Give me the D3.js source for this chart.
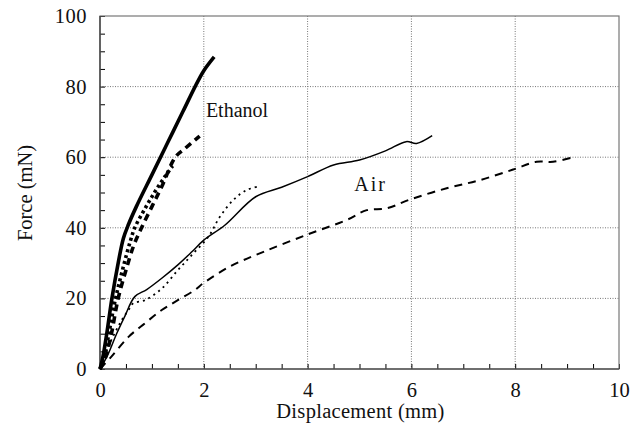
<!DOCTYPE html>
<html>
<head>
<meta charset="utf-8">
<script src="https://cdn.jsdelivr.net/npm/d3@7"></script>
<style>
  body { margin: 0; background: #fff; }
  svg text { font-family: "Liberation Serif", "DejaVu Serif", serif; fill: #111; }
  .grid line { stroke: #777; stroke-dasharray: 1,1.5; stroke-width: 1; }
</style>
</head>
<body>
<div id="graph"></div>
<script>
// displacement (mm) / force (mN)
var ethSolidX = [0, 0.05, 0.13, 0.23, 0.35, 0.45, 0.55, 0.7, 1.0, 1.3, 1.6, 1.85, 2.0, 2.2];
var ethSolidY = [0, 3, 10, 20, 30, 37, 41, 46, 55, 64, 73, 80.5, 84.5, 88.4];
var ethDotX = [0, 0.08, 0.17, 0.3, 0.45, 0.58, 0.67, 0.85, 1.05, 1.25, 1.4];
var ethDotY = [0, 3, 10, 20, 29, 36, 40, 45, 50, 54.5, 57.5];
var ethDashX = [0, 0.1, 0.22, 0.35, 0.5, 0.65, 0.8, 1.0, 1.2, 1.45, 1.64, 1.92];
var ethDashY = [0, 3, 10, 20, 28, 35, 40, 46, 52, 60, 62.5, 66];

var airSolidX = [0, 0.15, 0.32, 0.48, 0.67, 0.9, 1.19, 1.5, 1.77, 2.0, 2.41, 3.0, 3.5, 4.0, 4.5, 5.0, 5.5, 5.9, 6.1, 6.4];
var airSolidY = [0, 4, 10, 15, 20.5, 22.5, 25.7, 29.5, 33.2, 36.5, 40.8, 48.8, 51.5, 54.5, 57.8, 59.2, 61.8, 64.4, 63.9, 66.1];
var airDotX = [0, 0.16, 0.42, 0.55, 0.64, 0.87, 1.19, 1.5, 1.77, 2.09, 2.31, 2.57, 2.83, 3.08];
var airDotY = [0, 6.3, 13.9, 16.7, 18.6, 19.5, 22.8, 28, 32.3, 37.5, 43.1, 47.9, 50.7, 51.8];
var airDashX = [0, 0.22, 0.55, 0.87, 1.19, 1.5, 1.83, 1.99, 2.5, 3.15, 3.98, 4.75, 5.14, 5.52, 5.97, 6.68, 7.32, 7.96, 8.41, 8.73, 9.12];
var airDashY = [0, 3.5, 9.1, 13, 16.7, 19.5, 22.4, 24.3, 29, 33.2, 38, 42.2, 45, 45.5, 48, 51.2, 53.5, 56.5, 58.7, 58.7, 60];

var xTicks = [0, 2, 4, 6, 8, 10];
var yTicks = [0, 20, 40, 60, 80, 100];

var series = [
  { x: ethSolidX, y: ethSolidY, w: 3.6, dash: null },
  { x: ethDotX, y: ethDotY, w: 3.6, dash: "3,3" },
  { x: ethDashX, y: ethDashY, w: 3.6, dash: "7,5" },
  { x: airSolidX, y: airSolidY, w: 1.5, dash: null },
  { x: airDotX, y: airDotY, w: 1.8, dash: "2,4" },
  { x: airDashX, y: airDashY, w: 2, dash: "8,6" }
];

var margin = { top: 16, right: 24, bottom: 55, left: 100 },
    W = 643, H = 424,
    width = W - margin.left - margin.right,
    height = H - margin.top - margin.bottom;

var svg = d3.select("#graph").append("svg")
    .attr("width", W).attr("height", H)
  .append("g")
    .attr("transform", "translate(" + margin.left + "," + margin.top + ")");

var xScale = d3.scaleLinear().domain([0, 10]).range([0, width]);
var yScale = d3.scaleLinear().domain([0, 100]).range([height, 0]);

// dotted grid
svg.append("g").attr("class", "grid")
  .selectAll("line").data(xTicks.slice(1, -1)).enter().append("line")
    .attr("x1", d => xScale(d)).attr("x2", d => xScale(d))
    .attr("y1", 0).attr("y2", height);
svg.append("g").attr("class", "grid")
  .selectAll("line").data(yTicks.slice(1, -1)).enter().append("line")
    .attr("y1", d => yScale(d)).attr("y2", d => yScale(d))
    .attr("x1", 0).attr("x2", width);

// minor ticks pointing inward
svg.append("g")
    .attr("transform", "translate(0," + height + ")")
    .call(d3.axisBottom(xScale).ticks(20).tickSize(-5).tickFormat(""))
    .call(g => g.select(".domain").remove());
svg.append("g")
    .call(d3.axisLeft(yScale).ticks(20).tickSize(-5).tickFormat(""))
    .call(g => g.select(".domain").remove());

// labelled axes
var xAxis = svg.append("g")
    .attr("transform", "translate(0," + height + ")")
    .call(d3.axisBottom(xScale).tickValues(xTicks).tickSize(0).tickPadding(13));
xAxis.select(".domain").remove();
xAxis.selectAll("text").style("font-size", "20.5px");

var yAxis = svg.append("g")
    .call(d3.axisLeft(yScale).tickValues(yTicks).tickSize(0).tickPadding(13));
yAxis.select(".domain").remove();
yAxis.selectAll("text").style("font-size", "20.5px").style("letter-spacing", "0.5px");

// frame: right/top lighter, left/bottom darker
svg.append("rect")
    .attr("width", width).attr("height", height)
    .attr("fill", "none").attr("stroke", "#777").attr("stroke-width", 1.2);
svg.append("path")
    .attr("d", "M0,0V" + height + "H" + width)
    .attr("fill", "none").attr("stroke", "#333").attr("stroke-width", 1.2);

var line = d3.line()
    .x(d => xScale(d[0]))
    .y(d => yScale(d[1]))
    .curve(d3.curveCatmullRom.alpha(0.5));

series.forEach(function(s) {
  svg.append("path")
      .datum(s.x.map((v, i) => [v, s.y[i]]))
      .attr("fill", "none")
      .attr("stroke", "#000")
      .attr("stroke-width", s.w)
      .attr("stroke-dasharray", s.dash)
      .attr("d", line);
});

svg.append("text")
    .attr("x", xScale(2.04)).attr("y", yScale(71.5))
    .style("font-size", "20px")
    .text("Ethanol");
svg.append("text")
    .attr("x", xScale(4.9)).attr("y", yScale(50.5))
    .style("font-size", "20px")
    .style("letter-spacing", "2px")
    .text("Air");

svg.append("text")
    .attr("x", width / 2 + 1).attr("y", height + 49)
    .attr("text-anchor", "middle")
    .style("font-size", "20.5px")
    .style("letter-spacing", "0.3px")
    .text("Displacement (mm)");
svg.append("text")
    .attr("transform", "rotate(-90)")
    .attr("x", -177).attr("y", -68)
    .attr("text-anchor", "middle")
    .style("font-size", "20.5px")
    .text("Force (mN)");
</script>
</body>
</html>
